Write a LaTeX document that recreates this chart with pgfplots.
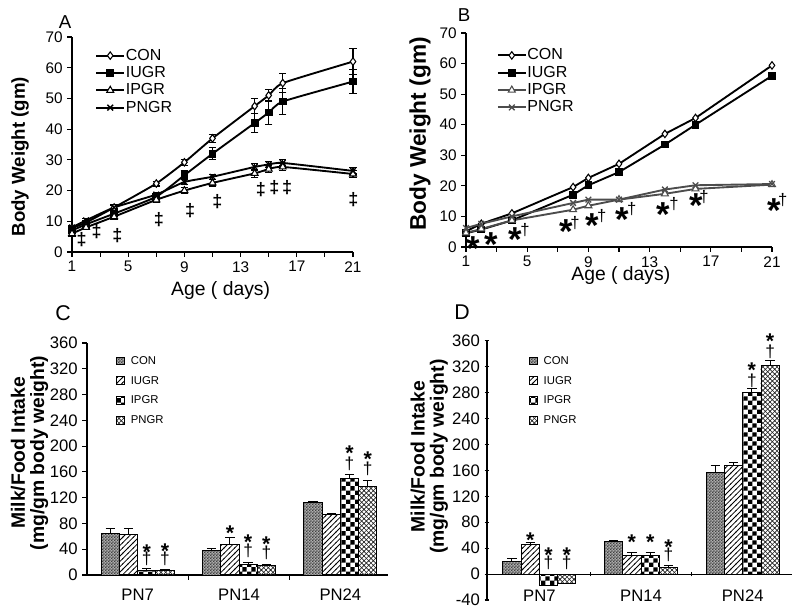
\documentclass[border=0pt]{standalone}
\usepackage{fontspec}
\setmainfont{Liberation Sans}
\usepackage{pgfplots}
\pgfplotsset{compat=1.18}
\usetikzlibrary{patterns}

\pgfdeclarepatternformonly{condots}{\pgfpointorigin}{\pgfqpoint{2.4pt}{2.4pt}}{\pgfqpoint{2.4pt}{2.4pt}}{%
  \pgfpathrectangle{\pgfpointorigin}{\pgfqpoint{1.2pt}{1.2pt}}%
  \pgfpathrectangle{\pgfqpoint{1.2pt}{1.2pt}}{\pgfqpoint{1.2pt}{1.2pt}}%
  \pgfusepath{fill}}
\pgfdeclarepatternformonly{iulines}{\pgfqpoint{-0.5pt}{-0.5pt}}{\pgfqpoint{4.5pt}{4.5pt}}{\pgfqpoint{4pt}{4pt}}{%
  \pgfsetlinewidth{0.55pt}%
  \pgfpathmoveto{\pgfqpoint{-0.5pt}{-0.5pt}}\pgfpathlineto{\pgfqpoint{4.5pt}{4.5pt}}%
  \pgfusepath{stroke}}
\pgfdeclarepatternformonly{ipcheck}{\pgfpointorigin}{\pgfqpoint{7pt}{7pt}}{\pgfqpoint{7pt}{7pt}}{%
  \pgfpathrectangle{\pgfpointorigin}{\pgfqpoint{3.5pt}{3.5pt}}%
  \pgfpathrectangle{\pgfqpoint{3.5pt}{3.5pt}}{\pgfqpoint{3.5pt}{3.5pt}}%
  \pgfusepath{fill}}
\pgfdeclarepatternformonly{pncross}{\pgfqpoint{-0.5pt}{-0.5pt}}{\pgfqpoint{4pt}{4pt}}{\pgfqpoint{3.5pt}{3.5pt}}{%
  \pgfsetlinewidth{0.45pt}%
  \pgfpathmoveto{\pgfqpoint{-0.5pt}{-0.5pt}}\pgfpathlineto{\pgfqpoint{4pt}{4pt}}%
  \pgfpathmoveto{\pgfqpoint{-0.5pt}{4pt}}\pgfpathlineto{\pgfqpoint{4pt}{-0.5pt}}%
  \pgfusepath{stroke}}

\pgfplotsset{
  myaxis/.style={scale only axis, axis lines=left, axis line style={-, line width=0.8pt},
    tick style={black, line width=0.8pt}, tick align=outside,
    major tick length=3.5pt, minor tick length=3.5pt,
    /pgf/number format/assume math mode=true, clip=false,
    tick label style={font=\fontsize{11.5}{13}\selectfont}},
  lineaxis/.style={myaxis, xmin=1, xmax=21, ymin=0, ymax=70,
    xtick={1,5,9,13,17,21}, minor xtick={3,7,11,15,19}, ytick={0,10,...,70},
    xlabel={Age ( days)}, ylabel={Body Weight (gm)},
    xlabel style={font=\fontsize{14.5}{16}\selectfont},
    ylabel style={font=\bfseries\fontsize{14}{16}\selectfont},
    legend cell align=left,
    legend image code/.code={\draw[mark repeat=2,mark phase=2,##1] plot coordinates {(0pt,0pt)(10.5pt,0pt)(21pt,0pt)};},
    legend style={draw=none, fill=none, anchor=north west, font=\fontsize{12}{13}\selectfont,
      nodes={inner sep=0.5pt, text height=9.3pt, text depth=2.7pt}, row sep=0pt, inner sep=0pt}},
  conline/.style={line width=1.4pt, mark=diamond*, mark size=2.8pt, mark options={fill=white, line width=0.8pt, solid}},
  iuline/.style={line width=1.4pt, mark=square*, mark size=2.2pt, mark options={fill=black, solid}},
  ipline/.style={line width=1.4pt, mark=triangle*, mark size=3pt, mark options={fill=white, line width=0.8pt, solid}},
  pnline/.style={line width=1.4pt, mark=x, mark size=3pt, mark options={line width=1pt, solid}},
  errb/.style={error bars/.cd, y dir=both, y explicit, error bar style={line width=0.8pt, black},
    error mark options={rotate=90, mark size=2.8pt, line width=0.8pt, black}},
  baraxis/.style={myaxis, ybar, bar width=0.18, xtick={0,1,2}, xticklabels={PN7,PN14,PN24},
    minor xtick={0.5,1.5}, major x tick style={draw=none},
    tick label style={font=\fontsize{12.5}{14}\selectfont},
    ylabel={Milk/Food Intake\\(mg/gm body weight)},
    ylabel style={align=center, font=\bfseries\fontsize{14.5}{14.5}\selectfont},
    legend cell align=left,
    legend style={draw=none, fill=none, anchor=north west, font=\fontsize{8.5}{9}\selectfont,
      nodes={inner sep=1pt, text height=9pt, text depth=3.8pt}, row sep=0pt, inner sep=0pt,
      /tikz/every odd column/.append style={column sep=3.5pt}}},
  sqleg/.style={legend image code/.code={\draw[##1] (0pt,-2.9pt) rectangle (5.8pt,2.9pt);}},
  berr/.style={error bars/.cd, y dir=plus, y explicit, error bar style={line width=0.8pt, black},
    error mark options={rotate=90, mark size=3.5pt, line width=0.8pt, black}},
  conbar/.style={draw=black, line width=0.7pt, fill=gray!65, postaction={pattern=condots, pattern color=black!75}, bar shift=-0.27, sqleg},
  iubar/.style={draw=black, line width=0.7pt, pattern=iulines, pattern color=black, bar shift=-0.09, sqleg},
  ipbar/.style={draw=black, line width=0.7pt, pattern=ipcheck, pattern color=black, bar shift=0.09, sqleg},
  pnbar/.style={draw=black, line width=0.7pt, pattern=pncross, pattern color=black!85, bar shift=0.27, sqleg},
}
\tikzset{
  ast/.style={font=\bfseries\fontsize{16}{16}\selectfont, inner sep=0pt, yshift=-3.2pt},
  dag/.style={font=\fontsize{13}{13}\selectfont, inner sep=0pt},
  bast/.style={font=\bfseries\fontsize{26}{26}\selectfont, inner sep=0pt, yshift=-5.2pt},
  bdag/.style={font=\fontsize{12.5}{12}\selectfont, inner sep=0pt},
  ddag/.style={font=\bfseries\fontsize{13.5}{13}\selectfont, inner sep=0pt},
}

\begin{document}
\begin{tikzpicture}
\path[use as bounding box] (0,0) rectangle (600pt,459pt);

% ---------------- Panel A ----------------
\begin{axis}[lineaxis, at={(54pt,270pt)}, anchor=south west, width=210.75pt, height=161.25pt,
  xlabel style={at={(axis description cs:0.529,-0.177)}, anchor=center},
  ylabel style={at={(axis description cs:-0.185,0.443)}, anchor=center},
  legend style={at={(axis description cs:0.082,0.955)}}]
\addplot[black, conline, smooth, tension=0.3, errb] table[x index=0, y index=1, y error index=2] {
1 7.8 0.5
2 9.6 0.6
4 14.5 0.8
7 22.3 0.8
9 29.2 1.0
11 37 1.3
14 47.5 2.5
15 51 2.0
16 55 3.0
21 62 4.3
};
\addplot[black, iuline, smooth, tension=0.3, errb] table[x index=0, y index=1, y error index=2] {
1 7 0.5
2 9 0.5
4 12.5 0.8
7 18 1.0
9 25 1.5
11 32 2.0
14 42 3.0
15 45.4 4.0
16 49 4.2
21 55.5 4.0
};
\addplot[black, ipline, smooth, tension=0.3, errb] table[x index=0, y index=1, y error index=2] {
1 6 0.8
2 8 0.5
4 11.5 0.8
7 17 0.8
9 20 1.0
11 22.5 1.0
14 25.6 1.2
15 27 1.2
16 27.7 1.2
21 25.4 1.0
};
\addplot[black, pnline, smooth, tension=0.3, errb] table[x index=0, y index=1, y error index=2] {
1 8 0.5
2 10.3 0.5
4 14.5 0.5
7 18.7 0.8
9 22.8 0.8
11 24.5 0.8
14 27.7 1.0
15 28.5 1.0
16 29 1.0
21 26.4 1.0
};
\legend{CON,IUGR,IPGR,PNGR}
\node[ddag] at (axis cs:1.69,3.9) {‡};
\node[ddag] at (axis cs:2.76,6.6) {‡};
\node[ddag] at (axis cs:4.23,5.5) {‡};
\node[ddag] at (axis cs:7.19,10.4) {‡};
\node[ddag] at (axis cs:9.40,13.5) {‡};
\node[ddag] at (axis cs:11.34,16.4) {‡};
\node[ddag] at (axis cs:14.45,20.4) {‡};
\node[ddag] at (axis cs:15.40,21.1) {‡};
\node[ddag] at (axis cs:16.32,21.1) {‡};
\node[ddag] at (axis cs:21.02,17.2) {‡};
\end{axis}

% ---------------- Panel B ----------------
\begin{axis}[lineaxis, at={(349.5pt,273.75pt)}, anchor=south west, width=229.5pt, height=160.5pt,
  xlabel style={at={(axis description cs:0.506,-0.131)}, anchor=center},
  ylabel style={at={(axis description cs:-0.150,0.528)}, anchor=center, font=\bfseries\fontsize{17}{18}\selectfont},
  legend style={at={(axis description cs:0.10,0.937)}}]
\addplot[black, conline] table {
1 5.1
2 7.6
4 11
8 19.6
9 22.6
11 27.2
14 37
16 42.2
21 59.4
};
\addplot[black, iuline] table {
1 4.5
2 5.7
4 8.7
8 17.1
9 20.2
11 24.5
14 33.5
16 40
21 56
};
\addplot[black!70, ipline] table {
1 4.6
2 5.9
4 8.7
8 12.2
9 13.5
11 15.5
14 17.4
16 19
21 20.4
};
\addplot[black!70, pnline] table {
1 6.2
2 7.6
4 10
8 14.4
9 15.5
11 15.5
14 18.8
16 20.2
21 20.6
};
\legend{CON,IUGR,IPGR,PNGR}
\node[bast] at (axis cs:1.48,1.73) {*};
\node[bast] at (axis cs:2.68,3.17) {*};
\node[bast] at (axis cs:4.25,4.8) {*};
\node[bast] at (axis cs:7.54,7.42) {*};
\node[bast] at (axis cs:9.28,9.38) {*};
\node[bast] at (axis cs:11.24,11.34) {*};
\node[bast] at (axis cs:13.9,12.98) {*};
\node[bast] at (axis cs:16.03,15.7) {*};
\node[bast] at (axis cs:21.13,14.07) {*};
\node[bdag] at (axis cs:4.86,5.56) {†};
\node[bdag] at (axis cs:8.12,7.75) {†};
\node[bdag] at (axis cs:9.87,10.14) {†};
\node[bdag] at (axis cs:11.83,12.32) {†};
\node[bdag] at (axis cs:14.59,14.07) {†};
\node[bdag] at (axis cs:16.56,16.46) {†};
\node[bdag] at (axis cs:21.7,15.37) {†};
\end{axis}

% ---------------- Panel C ----------------
\begin{axis}[baraxis, at={(65.25pt,27.75pt)}, anchor=south west, width=225.75pt, height=174pt,
  xmin=-0.5, xmax=2.47, ymin=0, ymax=360, ytick={0,40,...,360},
  xticklabel style={yshift=-3.5pt},
  ylabel style={at={(axis description cs:-0.191,0.526)}, anchor=center},
  legend style={at={(axis description cs:0.096,0.966)}}]
\addplot[conbar, berr] table[x index=0, y index=1, y error index=2] {
0 65 7
1 38 2.5
2 112.5 1.5
};
\addplot[iubar, berr] table[x index=0, y index=1, y error index=2] {
0 63 9.5
1 47.5 11
2 94 1
};
\addplot[ipbar, berr] table[x index=0, y index=1, y error index=2] {
0 7.5 2
1 16.5 3
2 149.5 6.5
};
\addplot[pnbar, berr] table[x index=0, y index=1, y error index=2] {
0 6.5 2.5
1 15 2
2 137.5 9
};
\legend{CON,IUGR,IPGR,PNGR}
\node[ast] at (axis cs:0.09,42.5) {*};
\node[ast] at (axis cs:0.27,43.5) {*};
\node[ast] at (axis cs:0.91,70.9) {*};
\node[ast] at (axis cs:1.09,57) {*};
\node[ast] at (axis cs:1.27,54.5) {*};
\node[ast] at (axis cs:2.09,196) {*};
\node[ast] at (axis cs:2.27,186) {*};
\node[dag] at (axis cs:0.09,24.5) {†};
\node[dag] at (axis cs:0.27,24.5) {†};
\node[dag] at (axis cs:1.09,37.5) {†};
\node[dag] at (axis cs:1.27,35) {†};
\node[dag] at (axis cs:2.09,172) {†};
\node[dag] at (axis cs:2.27,164.5) {†};
\end{axis}

% ---------------- Panel D ----------------
\begin{axis}[baraxis, at={(365.25pt,9pt)}, anchor=south west, width=228.75pt, height=194.5pt,
  axis x line=middle, axis y line=left, x axis line style={-}, y axis line style={-},
  hide obscured x ticks=false, hide obscured y ticks=false,
  xmin=-0.515, xmax=2.485, ymin=-40, ymax=360, ytick={-40,0,40,...,360},
  xticklabel style={yshift=-6.5pt},
  ylabel style={at={(axis description cs:-0.189,0.553)}, anchor=center},
  legend style={at={(axis description cs:0.137,0.961)}}]
\addplot[conbar, berr] table[x index=0, y index=1, y error index=2] {
0 19 5
1 50.5 1.5
2 156 11
};
\addplot[iubar, berr] table[x index=0, y index=1, y error index=2] {
0 46 2
1 28.5 5
2 167.5 4
};
\addplot[ipbar, berr] table[x index=0, y index=1, y error index=2] {
0 -17 0
1 28.5 5
2 279.5 7
};
\addplot[pnbar, berr] table[x index=0, y index=1, y error index=2] {
0 -14 0
1 10 3
2 322 7
};
\legend{CON,IUGR,IPGR,PNGR}
\node[ast] at (axis cs:-0.09,59.4) {*};
\node[ast] at (axis cs:0.09,36) {*};
\node[ast] at (axis cs:0.27,36) {*};
\node[ast] at (axis cs:0.91,55.9) {*};
\node[ast] at (axis cs:1.09,55.9) {*};
\node[ast] at (axis cs:1.27,47.5) {*};
\node[ast] at (axis cs:2.09,321) {*};
\node[ast] at (axis cs:2.27,366.5) {*};
\node[dag] at (axis cs:0.09,17) {†};
\node[dag] at (axis cs:0.27,17) {†};
\node[dag] at (axis cs:1.27,29) {†};
\node[dag] at (axis cs:2.09,297.5) {†};
\node[dag] at (axis cs:2.27,342.5) {†};
\end{axis}

% panel letters
\node[font=\fontsize{14}{14}\selectfont] at (48.75pt,442.5pt) {A};
\node[font=\fontsize{14}{14}\selectfont] at (348pt,447.75pt) {B};
\node[font=\fontsize{16}{16}\selectfont] at (47.25pt,224.25pt) {C};
\node[font=\fontsize{16}{16}\selectfont] at (346.5pt,225pt) {D};
\end{tikzpicture}
\end{document}
